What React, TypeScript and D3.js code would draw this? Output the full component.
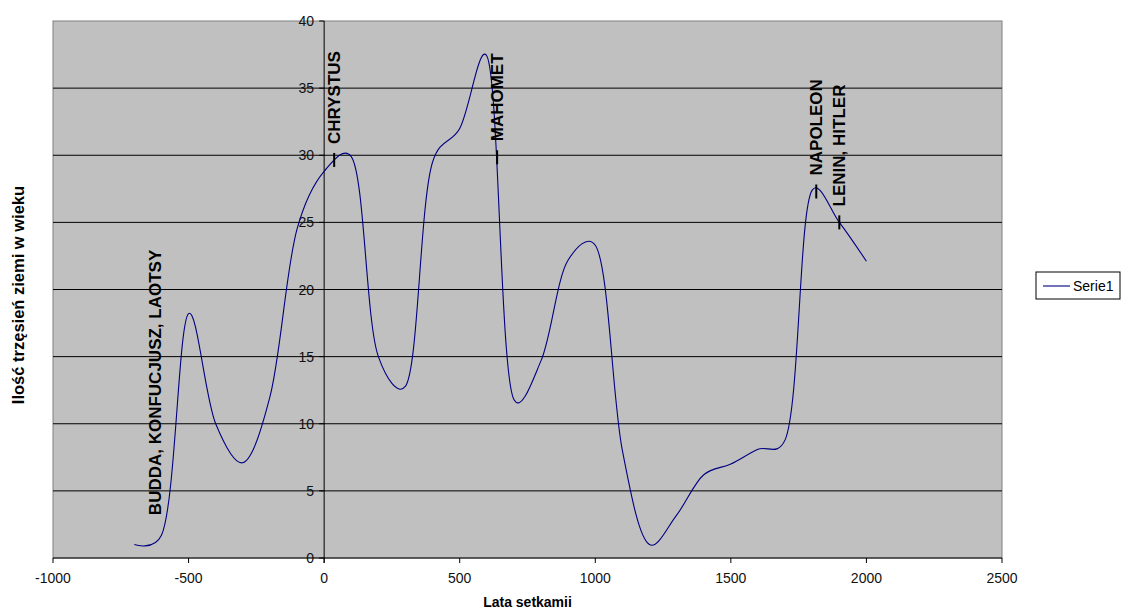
import React from "react";
import * as d3 from "d3";

const years = [-700, -600, -500, -400, -300, -200, -100, 0, 100, 200, 300, 400, 500, 600, 700, 800, 900, 1000, 1100, 1200, 1300, 1400, 1500, 1600, 1700, 1800, 1900, 2000];
const quakes = [1.0, 1.7, 18.2, 10, 7.1, 12, 24.5, 28.8, 29.9, 15, 12.8, 29.5, 32, 37.4, 11.8, 14.7, 22.2, 23.3, 8, 1.0, 3.2, 6.2, 7, 8.1, 8.8, 27.4, 25, 22.1];
const xTicks = [-1000, -500, 0, 500, 1000, 1500, 2000, 2500];
const yTicks = [0, 5, 10, 15, 20, 25, 30, 35, 40];
const annotationLabels = ["BUDDA, KONFUCJUSZ, LAOTSY", "CHRYSTUS", "MAHOMET", "NAPOLEON", "LENIN, HITLER"];
const annotationYears = [-625, 37, 638, 1815, 1900];
const annotationValues = [2.0, 29.65, 29.85, 27.3, 25.0];
const annotationHasTick = [false, true, true, true, true];
const seriesName = "Serie1";
const xTitle = "Lata setkamii";
const yTitle = "Ilość trzęsień ziemi w wieku";

const W = 1121;
const H = 612;
const L = 53, R = 1002, T = 21, B = 558;
const FONT = "'Liberation Sans', Arial, sans-serif";

export default function App() {
  const x = d3.scaleLinear().domain([-1000, 2500]).range([L, R]);
  const y = d3.scaleLinear().domain([0, 40]).range([B, T]);
  const pts: [number, number][] = years.map((yr, i) => [yr, quakes[i]]);
  const line = d3
    .line<[number, number]>()
    .x((d) => x(d[0]))
    .y((d) => y(d[1]))
    .curve(d3.curveCatmullRom.alpha(0.3));
  const x0 = x(0);

  return (
    <svg
      width={W}
      height={H}
      style={{ position: "absolute", left: 0, top: 0, display: "block", background: "#fff" }}
      fontFamily={FONT}
    >
      <rect x={0} y={0} width={W} height={H} fill="#fff" />
      {/* plot area */}
      <rect x={L} y={T} width={R - L} height={B - T} fill="#c0c0c0" stroke="#808080" strokeWidth={1} />
      {yTicks.filter((t) => t > 0 && t < 40).map((t) => (
        <line key={"g" + t} x1={L} x2={R} y1={y(t)} y2={y(t)} stroke="#000" strokeWidth={1} />
      ))}
      {/* x axis */}
      <line x1={L} x2={R} y1={B} y2={B} stroke="#000" strokeWidth={1} />
      {xTicks.map((t) => (
        <g key={"xt" + t}>
          <line x1={x(t)} x2={x(t)} y1={B} y2={B + 5} stroke="#000" />
          <text x={x(t)} y={B + 25} textAnchor="middle" fontSize={14} fill="#111">
            {t}
          </text>
        </g>
      ))}
      {/* y axis at x=0 */}
      <line x1={x0} x2={x0} y1={T} y2={B + 5} stroke="#000" strokeWidth={1} />
      {yTicks.map((t) => (
        <g key={"yt" + t}>
          <line x1={x0 - 5} x2={x0} y1={y(t)} y2={y(t)} stroke="#000" />
          <text x={x0 - 10} y={y(t) + 5} textAnchor="end" fontSize={14} fill="#111">
            {t}
          </text>
        </g>
      ))}
      {/* series */}
      <path d={line(pts) || ""} fill="none" stroke="#000080" strokeWidth={1.1} />
      {/* annotations */}
      {annotationLabels.map((lab, i) => {
        const ax = x(annotationYears[i]);
        const ay = y(annotationValues[i]);
        return (
          <g key={"a" + i}>
            {annotationHasTick[i] && (
              <line x1={ax} x2={ax} y1={ay - 7} y2={ay + 7} stroke="#000" strokeWidth={2} />
            )}
            <text
              transform={`translate(${ax + 6},${ay - 16}) rotate(-90)`}
              fontSize={17}
              fontWeight="bold"
              fill="#000"
            >
              {lab}
            </text>
          </g>
        );
      })}
      {/* axis titles */}
      <text x={(L + R) / 2} y={607} textAnchor="middle" fontSize={14} fontWeight="bold" fill="#000">
        {xTitle}
      </text>
      <text
        transform={`translate(24,295) rotate(-90)`}
        textAnchor="middle"
        fontSize={16.5}
        fontWeight="bold"
        fill="#000"
      >
        {yTitle}
      </text>
      {/* legend */}
      <rect x={1036} y={272} width={84} height={27} fill="#fff" stroke="#000" strokeWidth={1} />
      <line x1={1043} x2={1070} y1={286} y2={286} stroke="#000080" strokeWidth={1.1} />
      <text x={1073} y={291} fontSize={14} fill="#000">
        {seriesName}
      </text>
    </svg>
  );
}
